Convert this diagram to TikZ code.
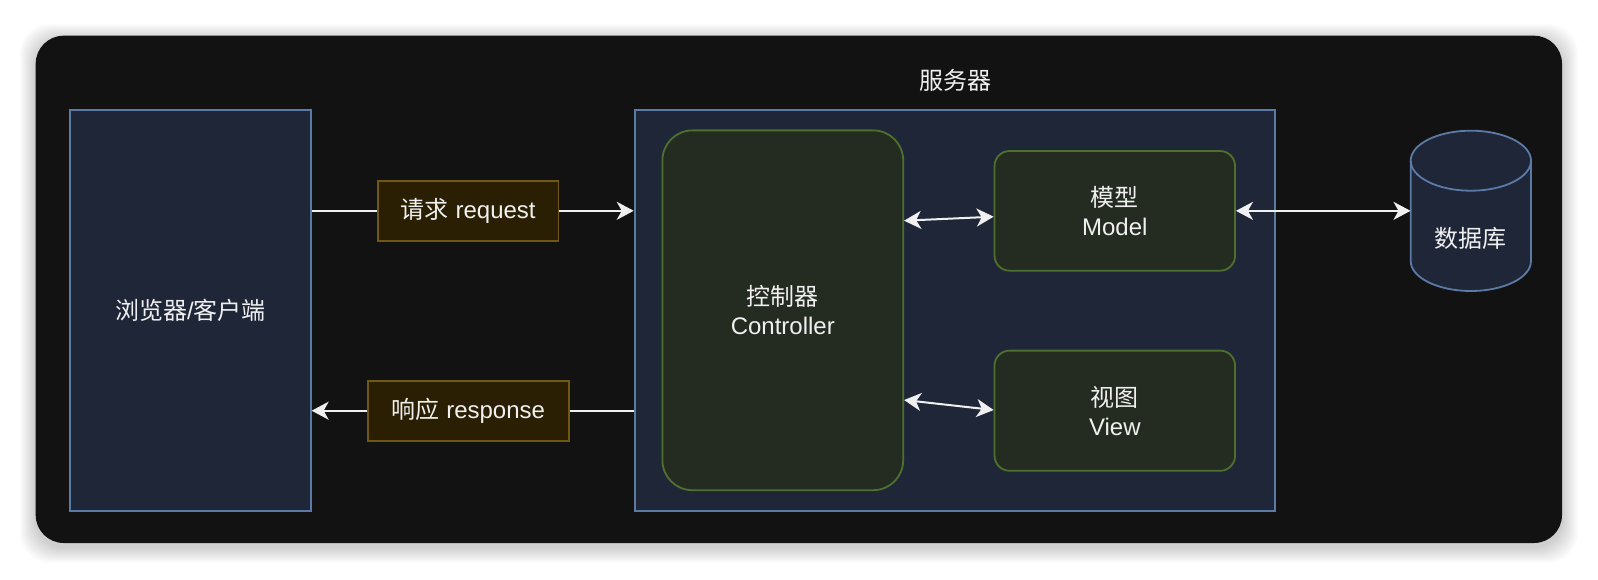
\documentclass[tikz,border=0pt]{standalone}
\usepackage{fontspec}
\setmainfont{Liberation Sans}
\newfontfamily\cjk{Noto Sans CJK SC}
\usetikzlibrary{arrows.meta,calc}
\definecolor{panel}{RGB}{18,18,18}
\definecolor{bluefill}{RGB}{30,38,56}
\definecolor{bluestroke}{RGB}{92,122,166}
\definecolor{labfill}{RGB}{42,31,3}
\definecolor{labstroke}{RGB}{112,88,18}
\definecolor{grfill}{RGB}{36,44,34}
\definecolor{grstroke}{RGB}{78,112,46}
\definecolor{txt}{RGB}{240,240,240}
\begin{document}
\begin{tikzpicture}[x=1pt,y=-1pt,
  every node/.style={font=\fontsize{24}{28.8}\selectfont, text=txt, align=center, inner sep=0pt},
  bluebox/.style={draw=bluestroke, fill=bluefill, line width=1.8pt},
  labbox/.style={draw=labstroke, fill=labfill, line width=1.8pt},
  greenbox/.style={draw=grstroke, fill=grfill, line width=1.8pt},
  conn/.style={draw=txt, line width=2pt},
  tipend/.style={-{Stealth[length=17pt,width=18pt,inset=5pt]}},
  tipboth/.style={{Stealth[length=17pt,width=18pt,inset=5pt]}-{Stealth[length=17pt,width=18pt,inset=5pt]}},
]
\useasboundingbox (0,0) rectangle (1598,580);
\fill[white] (0,0) rectangle (1598,580);
% shadow
\foreach \i in {1,...,16}{
  \fill[black, opacity=0.011, rounded corners=30pt] (35.7-\i,35.7-\i+4) rectangle (1562+\i,543+\i+4);
}
% panel
\fill[panel, rounded corners=28pt] (35.7,35.7) rectangle (1562,543);

% boxes
\node[bluebox, minimum width=240.5pt, minimum height=400.6pt] (browser) at (190.5,310.3) {{\cjk 浏览器}/{\cjk 客户端}};
\node[bluebox, minimum width=640.3pt, minimum height=400.6pt] (server) at (954.8,310.3) {};
\node (serverlabel) at (955,80.7) {\cjk 服务器};
\node[greenbox, rounded corners=30pt, minimum width=240.8pt, minimum height=359.8pt] (ctrl) at (782.8,310.3) {{\cjk 控制器}\\Controller};
\node[greenbox, rounded corners=15pt, minimum width=240.5pt, minimum height=119.7pt] (model) at (1114.8,210.85) {{\cjk 模型}\\Model};
\node[greenbox, rounded corners=15pt, minimum width=240.5pt, minimum height=120.2pt] (view) at (1114.8,410.7) {{\cjk 视图}\\View};

% request / response labels
\node[labbox, minimum width=180.5pt, minimum height=60pt] (req) at (468.3,210.8) {{\cjk 请求} request};
\node[labbox, minimum width=200.6pt, minimum height=60pt] (resp) at (468.3,410.7) {{\cjk 响应} response};

% database cylinder
\fill[bluefill] (1410.7,160.7) -- (1410.7,261) arc[start angle=180,end angle=360,x radius=60.15pt,y radius=30pt] -- (1531,160.7) -- cycle;
\fill[bluefill] (1470.85,160.7) ellipse [x radius=60.15pt, y radius=30pt];
\draw[bluestroke, line width=1.8pt] (1410.7,160.7) -- (1410.7,261) arc[start angle=180,end angle=360,x radius=60.15pt,y radius=30pt] -- (1531,160.7);
\draw[bluestroke, line width=1.8pt] (1470.85,160.7) ellipse [x radius=60.15pt, y radius=30pt];
\node[minimum width=120.3pt, minimum height=160.3pt] (db) at (1470.85,210.85) {};
\node (dblabel) at (1470.85,238) {\cjk 数据库};

% connectors
\draw[conn] (browser.east |- req.west) -- (req.west);
\draw[conn, tipend] (req.east) -- (server.west |- req.east);
\draw[conn] (server.west |- resp.east) -- (resp.east);
\draw[conn, tipend] (resp.west) -- (browser.east |- resp.west);
\draw[conn, tipboth] (ctrl.east |- 0,220.7) -- (model.west |- 0,216.7);
\draw[conn, tipboth] (ctrl.east |- 0,400) -- (view.west |- 0,410);
\draw[conn, tipboth] (model.east) -- (db.west |- model.east);
\end{tikzpicture}
\end{document}
